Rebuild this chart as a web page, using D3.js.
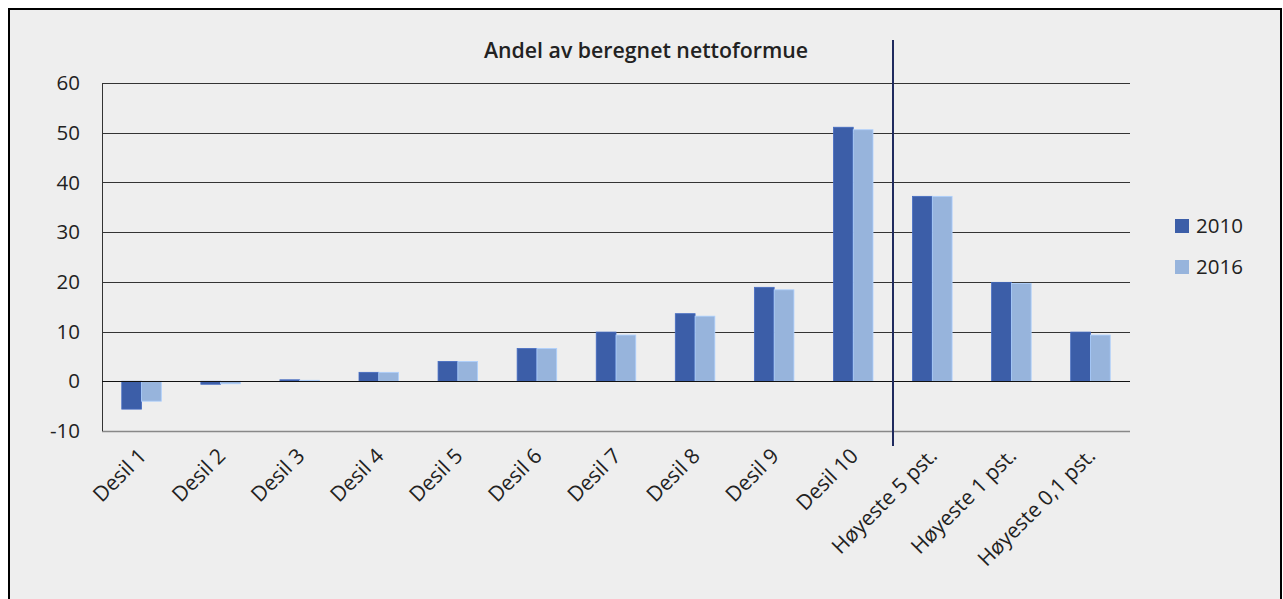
<!DOCTYPE html>
<meta charset="utf-8">
<script src="https://d3js.org/d3.v7.min.js"></script>
<style>
  body { margin: 0; background: #fff; }
  text { font-family: "Open Sans", "Noto Sans", sans-serif; fill: #222; }
</style>
<div id="chart"></div>
<script>
  var categories = ["Desil 1", "Desil 2", "Desil 3", "Desil 4", "Desil 5", "Desil 6", "Desil 7",
    "Desil 8", "Desil 9", "Desil 10", "Høyeste 5 pst.", "Høyeste 1 pst.", "Høyeste 0,1 pst."];
  var years = ["2010", "2016"];
  var values2010 = [-5.6, -0.6, 0.3, 1.8, 4.0, 6.6, 9.9, 13.6, 18.9, 51.1, 37.2, 19.9, 9.9];
  var values2016 = [-4.0, -0.5, 0.2, 1.8, 4.0, 6.6, 9.3, 13.1, 18.4, 50.6, 37.2, 19.7, 9.3];
  var yTicks = [-10, 0, 10, 20, 30, 40, 50, 60];

  var width = 1283, height = 599;
  var colors = { "2010": "#3c5ea8", "2016": "#97b4dc" };

  var svg = d3.select("#chart").append("svg")
    .attr("width", width).attr("height", height);

  // frame
  svg.append("rect").attr("x", 9).attr("y", 9).attr("width", 1272).attr("height", 600)
    .attr("fill", "#eeeeee").attr("stroke", "#000").attr("stroke-width", 2);

  var x = d3.scaleBand().domain(categories).range([102, 1130]).paddingInner(0.5).paddingOuter(0.25);
  var x1 = d3.scaleBand().domain(years).range([0, x.bandwidth()]);
  var y = d3.scaleLinear().domain([-10, 60]).range([431, 83]);

  // gridlines
  svg.append("g").selectAll("line").data(yTicks).enter().append("line")
    .attr("x1", 102).attr("x2", 1130)
    .attr("y1", function (d) { return Math.round(y(d)) + 0.5; })
    .attr("y2", function (d) { return Math.round(y(d)) + 0.5; })
    .attr("stroke", function (d) { return d === -10 ? "#888" : (d === 0 ? "#111" : "#333"); })
    .attr("stroke-width", function (d) { return d === -10 ? 1.5 : 1; });

  // y axis line
  svg.append("line").attr("x1", 102.5).attr("x2", 102.5).attr("y1", y(60)).attr("y2", y(-10))
    .attr("stroke", "#333");

  // y labels
  svg.append("g").selectAll("text").data(yTicks).enter().append("text")
    .attr("x", 80).attr("y", function (d) { return y(d); })
    .attr("dy", "0.35em").attr("text-anchor", "end")
    .style("font-size", "20.5px")
    .text(function (d) { return d; });

  // bars
  var series = [values2010, values2016];
  years.forEach(function (yr, i) {
    svg.append("g").selectAll("rect").data(series[i]).enter().append("rect")
      .attr("x", function (d, j) { return x(categories[j]) + x1(yr); })
      .attr("width", x1.bandwidth())
      .attr("y", function (d) { return y(Math.max(0, d)); })
      .attr("height", function (d) { return Math.abs(y(d) - y(0)); })
      .attr("fill", colors[yr])
      .attr("stroke", d3.color(colors[yr]).brighter(0.4))
      .attr("stroke-width", 0.8);
  });

  // redraw zero line over bars
  svg.append("line").attr("x1", 102).attr("x2", 1130)
    .attr("y1", Math.round(y(0)) + 0.5).attr("y2", Math.round(y(0)) + 0.5)
    .attr("stroke", "#111");

  // x labels
  svg.append("g").selectAll("text").data(categories).enter().append("text")
    .attr("transform", function (d) {
      var cx = x(d) + x.bandwidth() / 2 + 1;
      return "translate(" + cx + ",452) rotate(-45)";
    })
    .attr("text-anchor", "end")
    .attr("dy", "0.35em")
    .style("font-size", "21px")
    .text(function (d) { return d; });

  // separator
  svg.append("line").attr("x1", 893).attr("x2", 893).attr("y1", 40).attr("y2", 446)
    .attr("stroke", "#1f2a5e").attr("stroke-width", 2);

  // title
  svg.append("text").attr("x", 646).attr("y", 58).attr("text-anchor", "middle")
    .style("font-size", "21.3px").style("font-weight", "600")
    .text("Andel av beregnet nettoformue");

  // legend
  var legend = svg.append("g").selectAll("g").data(years).enter().append("g")
    .attr("transform", function (d, i) { return "translate(1175," + (219 + i * 41) + ")"; });
  legend.append("rect").attr("width", 14).attr("height", 14)
    .attr("fill", function (d) { return colors[d]; });
  legend.append("text").attr("x", 21).attr("y", 7).attr("dy", "0.35em")
    .style("font-size", "20.5px").text(function (d) { return d; });
</script>
